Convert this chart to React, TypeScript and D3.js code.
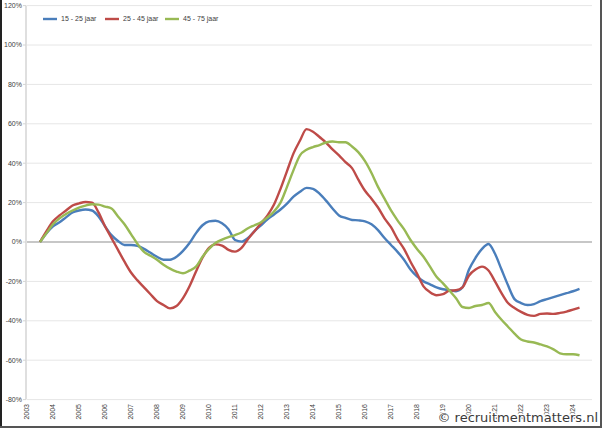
import * as d3 from 'd3'

// quarterly points, 2003 Q3 .. 2024 Q2
const quarters = d3.range(0, 84).map((i) => 2003.5 + i * 0.25)

const years = d3.range(2003, 2025)
const yTicks = [120, 100, 80, 60, 40, 20, 0, -20, -40, -60, -80]

const young = [
	0, 4.5, 8, 10, 12.5, 15, 16, 16.5, 16, 13, 8, 3.5, 0.5, -1.5, -1.5, -2, -3.5, -5.5, -7.5, -9, -9, -7.5,
	-4.5, -0.5, 4.5, 8.5, 10.5, 10.8, 9.5, 6.5, 1, 0.2, 2, 5.5, 8.5, 11.5, 14, 16.5, 19.5, 23, 25.5, 27.5,
	27, 24.5, 21, 17, 13.5, 12.2, 11.2, 11, 10.5, 9, 6, 2, -1.5, -5, -9, -14, -17.5, -20, -21.5, -23, -24,
	-24.5, -25, -23, -14, -8, -3.5, -1, -6, -14, -22, -29, -31, -32, -31.5, -30, -29, -28, -27, -26, -25,
	-23.8,
]
const middle = [
	0, 5.5, 10.5, 13.5, 16, 18.5, 19.6, 20.3, 20, 15, 8, 2, -4, -10, -15.5, -19.5, -23, -26.5, -30, -32,
	-33.7, -32.5, -28.5, -22.5, -15, -8, -3, -1.2, -1.8, -4, -4.9, -3, 1.5, 5.5, 9.5, 13.5, 19, 27, 36, 45,
	51.5, 57.3, 56, 53.3, 50.5, 47, 44, 40.5, 37.5, 31.5, 26, 22, 17.5, 12, 7.5, 1.5, -3.5, -10, -16,
	-22.5, -25.5, -27, -26.5, -24.7, -24.5, -23, -17, -14, -12.5, -14.5, -20, -26, -31, -33.5, -35.5, -37,
	-37.5, -36.5, -36.3, -36.5, -36, -35.3, -34.3, -33.3,
]
const older = [
	0, 4.5, 9, 12, 14.2, 16, 17.5, 18.5, 19.2, 19, 18, 17, 13, 9, 4, -1, -5, -7, -9, -11.5, -13.5, -15,
	-15.9, -14.5, -12.5, -7.5, -3.5, -0.5, 1.2, 2.5, 3.5, 4.8, 7, 8.5, 10, 12.5, 15.5, 20, 28, 36.5, 44,
	46.8, 48.2, 49.2, 50.5, 51, 50.6, 50.6, 48.5, 45.5, 41, 35, 28, 22, 16, 11, 6.5, 1, -3.5, -7.5, -12.5,
	-17.6, -21, -24.7, -28.5, -33, -33.5, -32.5, -32, -31, -35.5, -39.5, -43, -46.5, -49.5, -50.5, -51, -52,
	-53, -54.5, -56.5, -57, -57, -57.5,
]

const seriesNames = ['15 - 25 jaar', '25 - 45 jaar', '45 - 75 jaar']
const seriesColors = ['#4a7ebb', '#be4b48', '#98b954']

const W = 602
const H = 428
const font = 'Liberation Sans, Arial, sans-serif'

export default function App() {
	const x = d3.scaleLinear().domain([2003, 2024.73]).range([27, 592])
	const y = d3.scaleLinear().domain([-80, 120]).range([399.6, 5.6])

	const line = d3
		.line<number>()
		.x((_, i) => x(quarters[i]))
		.y((d) => y(d))
		.curve(d3.curveMonotoneX)

	const series = [young, middle, older]

	return (
		<svg
			width={W}
			height={H}
			style={{ position: 'absolute', left: 0, top: 0, background: '#fff' }}
			fontFamily={font}
		>
			<rect x={0} y={0} width={W} height={H} fill="#fff" />

			{/* gridlines */}
			{yTicks
				.filter((t) => t !== 0)
				.map((t) => (
					<line key={t} x1={x(2003)} x2={592} y1={y(t)} y2={y(t)} stroke="#e6e6e6" strokeWidth={1} />
				))}

			{/* y axis */}
			<line x1={26} x2={26} y1={y(120)} y2={y(-80)} stroke="#d4d4d4" strokeWidth={1.5} />
			{yTicks.map((t) => (
				<g key={t}>
					<line x1={23} x2={26} y1={y(t)} y2={y(t)} stroke="#d4d4d4" />
					<text x={22} y={y(t)} dy="0.35em" textAnchor="end" fontSize={7} fill="#404040">
						{t}%
					</text>
				</g>
			))}

			{/* zero line */}
			<line x1={x(2003)} x2={592} y1={y(0)} y2={y(0)} stroke="#b4b4b4" strokeWidth={1.5} />

			{/* x labels */}
			{years.map((yr) => (
				<text
					key={yr}
					transform={`translate(${x(yr)},404) rotate(-90)`}
					textAnchor="end"
					dy="0.35em"
					fontSize={7}
					fill="#404040"
				>
					{yr}
				</text>
			))}

			{/* series */}
			{series.map((s, i) => (
				<path
					key={i}
					d={line(s) || ''}
					fill="none"
					stroke={seriesColors[i]}
					strokeWidth={2.4}
					strokeLinejoin="round"
				/>
			))}

			{/* legend */}
			{seriesNames.map((n, i) => {
				const lx = [43, 105, 165][i]
				return (
					<g key={n}>
						<line x1={lx} x2={lx + 14} y1={19} y2={19} stroke={seriesColors[i]} strokeWidth={2.4} />
						<text x={lx + 18} y={19} dy="0.35em" fontSize={7} fill="#404040">
							{n}
						</text>
					</g>
				)
			})}

			{/* watermark */}
			<text
				x={598}
				y={417}
				dy="0.35em"
				textAnchor="end"
				fontSize={13}
				fill="#3a3a3a"
				stroke="#fff"
				strokeWidth={2.5}
				paintOrder="stroke"
				fontFamily="DejaVu Sans, sans-serif"
			>
				© recruitmentmatters.nl
			</text>

			{/* frame */}
			<line x1={1} x2={1} y1={0} y2={H} stroke="#222" strokeWidth={2} />
			<line x1={W - 1} x2={W - 1} y1={0} y2={H} stroke="#555" strokeWidth={2} />
			<line x1={0} x2={W} y1={H - 1} y2={H - 1} stroke="#555" strokeWidth={2} />
		</svg>
	)
}
